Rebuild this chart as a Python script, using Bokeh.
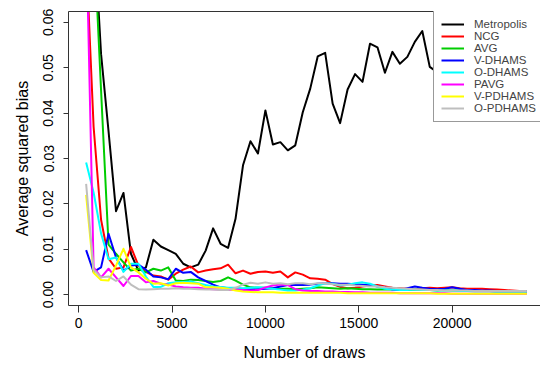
from bokeh.plotting import figure
from bokeh.models import (Range1d, FixedTicker, LinearAxis, Legend, LegendItem,
                          NumeralTickFormatter)
from bokeh.embed import file_html
from bokeh.resources import INLINE

# number of draws at which the bias was evaluated
draws = list(range(400, 24001, 400))

metropolis = [0.125, 0.082, 0.053, 0.036, 0.0184, 0.0224, 0.0090, 0.0053, 0.0060, 0.0121,
              0.0106, 0.0098, 0.0090, 0.0068, 0.0060, 0.0066, 0.0097, 0.0146, 0.0112, 0.0103,
              0.0167, 0.0285, 0.0338, 0.0311, 0.0406, 0.0331, 0.0336, 0.0318, 0.0329, 0.0402,
              0.0454, 0.0525, 0.0533, 0.0421, 0.0378, 0.0452, 0.0486, 0.0469, 0.0553, 0.0545,
              0.0489, 0.0535, 0.0509, 0.0524, 0.0557, 0.0581, 0.0502, 0.0490, 0.0520, 0.0545,
              0.0510, 0.0560, 0.0575, 0.0530, 0.0555, 0.0590, 0.0565, 0.0540, 0.0585, 0.0570]

ncg = [0.075, 0.037, 0.0165, 0.0080, 0.0057, 0.0060, 0.0105, 0.0064, 0.0050, 0.0042,
       0.0040, 0.0033, 0.0046, 0.0055, 0.0062, 0.0049, 0.0053, 0.0056, 0.0058, 0.0066,
       0.0047, 0.0053, 0.0046, 0.0050, 0.0051, 0.0048, 0.0051, 0.0038, 0.0049, 0.0044,
       0.0036, 0.0035, 0.0033, 0.0023, 0.0017, 0.0014, 0.0015, 0.0018, 0.0020, 0.0021,
       0.0018, 0.0015, 0.0014, 0.0013, 0.0012, 0.0014, 0.0015, 0.0014, 0.0015, 0.0016,
       0.0014, 0.0013, 0.0013, 0.0013, 0.0012, 0.0011, 0.0010, 0.0009, 0.0008, 0.0007]

avg = [0.115, 0.080, 0.045, 0.0110, 0.0090, 0.0071, 0.0053, 0.0057, 0.0049, 0.0057,
       0.0053, 0.0060, 0.0031, 0.0030, 0.0033, 0.0032, 0.0030, 0.0028, 0.0030, 0.0038,
       0.0031, 0.0022, 0.0016, 0.0015, 0.0015, 0.0014, 0.0013, 0.0013, 0.0012, 0.0013,
       0.0014, 0.0016, 0.0015, 0.0014, 0.0013, 0.0014, 0.0013, 0.0012, 0.0012, 0.0011,
       0.0012, 0.0011, 0.0011, 0.0010, 0.0011, 0.0010, 0.0010, 0.0009, 0.0010, 0.0009,
       0.0009, 0.0008, 0.0008, 0.0008, 0.0008, 0.0007, 0.0007, 0.0007, 0.0007, 0.0007]

v_dhams = [0.0098, 0.0050, 0.0060, 0.0134, 0.0082, 0.0053, 0.0064, 0.0066, 0.0055, 0.0040,
           0.0038, 0.0034, 0.0057, 0.0048, 0.0050, 0.0038, 0.0030, 0.0022, 0.0016, 0.0014,
           0.0012, 0.0012, 0.0011, 0.0012, 0.0013, 0.0014, 0.0018, 0.0021, 0.0022, 0.0021,
           0.0022, 0.0024, 0.0025, 0.0025, 0.0024, 0.0024, 0.0023, 0.0022, 0.0021, 0.0018,
           0.0016, 0.0011, 0.0010, 0.0014, 0.0018, 0.0015, 0.0013, 0.0012, 0.0013, 0.0016,
           0.0013, 0.0010, 0.0010, 0.0009, 0.0009, 0.0008, 0.0008, 0.0008, 0.0007, 0.0007]

o_dhams = [0.0291, 0.0225, 0.0135, 0.0078, 0.0082, 0.0050, 0.0068, 0.0068, 0.0040, 0.0017,
           0.0017, 0.0025, 0.0027, 0.0028, 0.0029, 0.0025, 0.0021, 0.0018, 0.0017, 0.0015,
           0.0015, 0.0014, 0.0015, 0.0016, 0.0015, 0.0013, 0.0011, 0.0009, 0.0009, 0.0011,
           0.0014, 0.0020, 0.0025, 0.0024, 0.0020, 0.0022, 0.0025, 0.0027, 0.0024, 0.0018,
           0.0013, 0.0011, 0.0010, 0.0010, 0.0011, 0.0010, 0.0010, 0.0009, 0.0009, 0.0009,
           0.0008, 0.0008, 0.0007, 0.0007, 0.0007, 0.0006, 0.0006, 0.0006, 0.0005, 0.0005]

pavg = [0.081, 0.0060, 0.0038, 0.0057, 0.0038, 0.0019, 0.0041, 0.0041, 0.0027, 0.0030,
        0.0024, 0.0022, 0.0018, 0.0016, 0.0015, 0.0015, 0.0013, 0.0012, 0.0011, 0.0010,
        0.0011, 0.0010, 0.0009, 0.0010, 0.0016, 0.0020, 0.0022, 0.0021, 0.0012, 0.0009,
        0.0008, 0.0008, 0.0007, 0.0007, 0.0006, 0.0006, 0.0005, 0.0005, 0.0004, 0.0004,
        0.0004, 0.0004, 0.0003, 0.0003, 0.0003, 0.0003, 0.0003, 0.0003, 0.0003, 0.0002,
        0.0002, 0.0002, 0.0002, 0.0002, 0.0002, 0.0002, 0.0002, 0.0002, 0.0002, 0.0002]

v_pdhams = [0.022, 0.0048, 0.0032, 0.0031, 0.0064, 0.0101, 0.0060, 0.0049, 0.0035, 0.0024,
            0.0025, 0.0020, 0.0025, 0.0026, 0.0025, 0.0024, 0.0016, 0.0016, 0.0015, 0.0013,
            0.0009, 0.0007, 0.0006, 0.0005, 0.0005, 0.0005, 0.0004, 0.0004, 0.0004, 0.0004,
            0.0004, 0.0004, 0.0004, 0.0004, 0.0004, 0.0003, 0.0003, 0.0003, 0.0003, 0.0003,
            0.0003, 0.0003, 0.0003, 0.0003, 0.0003, 0.0003, 0.0003, 0.0002, 0.0002, 0.0002,
            0.0002, 0.0002, 0.0002, 0.0002, 0.0002, 0.0002, 0.0002, 0.0002, 0.0002, 0.0002]

o_pdhams = [0.0244, 0.0055, 0.0038, 0.0040, 0.0030, 0.0040, 0.0022, 0.0012, 0.0011, 0.0012,
            0.0013, 0.0013, 0.0014, 0.0013, 0.0013, 0.0012, 0.0011, 0.0011, 0.0010, 0.0010,
            0.0015, 0.0022, 0.0026, 0.0024, 0.0027, 0.0024, 0.0025, 0.0023, 0.0025, 0.0025,
            0.0023, 0.0025, 0.0025, 0.0023, 0.0022, 0.0022, 0.0020, 0.0019, 0.0018, 0.0018,
            0.0016, 0.0015, 0.0014, 0.0013, 0.0012, 0.0011, 0.0010, 0.0010, 0.0009, 0.0009,
            0.0009, 0.0009, 0.0008, 0.0008, 0.0008, 0.0008, 0.0008, 0.0008, 0.0008, 0.0008]

series_labels = ["Metropolis", "NCG", "AVG", "V-DHAMS", "O-DHAMS", "PAVG", "V-PDHAMS", "O-PDHAMS"]
series_values = [metropolis, ncg, avg, v_dhams, o_dhams, pavg, v_pdhams, o_pdhams]
series_colors = ["#000000", "#FF0000", "#00CD00", "#0000FF", "#00FFFF", "#FF00FF", "#FFFF00", "#BEBEBE"]

x_ticks = [0, 5000, 10000, 15000, 20000]
y_ticks = [0.00, 0.01, 0.02, 0.03, 0.04, 0.05, 0.06]

FONT = "Liberation Sans"
BOX = "#333333"

p = figure(width=540, height=365, output_backend="svg", toolbar_location=None,
           x_range=Range1d(-544, 24730), y_range=Range1d(-0.0024, 0.0624),
           min_border_left=68, min_border_right=0, min_border_top=11, min_border_bottom=60,
           background_fill_color="white", border_fill_color="white")
p.outline_line_color = None
p.xgrid.visible = False
p.ygrid.visible = False

renderers = []
for vals, col in zip(series_values, series_colors):
    r = p.line(draws, vals, line_color=col, line_width=2, line_join="round")
    renderers.append(r)

# axes
p.xaxis.ticker = FixedTicker(ticks=x_ticks)
p.yaxis.ticker = FixedTicker(ticks=y_ticks)
p.yaxis.formatter = NumeralTickFormatter(format="0.00")
p.yaxis.major_label_orientation = "vertical"
p.xaxis.axis_label = "Number of draws"
p.yaxis.axis_label = "Average squared bias"
for ax, tick_out, std, lstd in ((p.xaxis, 7, 5, 13), (p.yaxis, 5, 10, 10)):
    ax.axis_line_color = BOX
    ax.major_tick_line_color = BOX
    ax.minor_tick_line_color = None
    ax.major_tick_in = 0
    ax.major_tick_out = tick_out
    ax.major_label_standoff = std
    ax.axis_label_standoff = lstd
    ax.major_label_text_font = FONT
    ax.major_label_text_font_size = "14px"
    ax.major_label_text_color = "black"
    ax.axis_label_text_font = FONT
    ax.axis_label_text_font_size = "16px"
    ax.axis_label_text_font_style = "normal"
    ax.axis_label_text_color = "black"

# top edge of the box
top = LinearAxis(ticker=FixedTicker(ticks=[]), axis_line_color=BOX,
                 major_tick_line_color=None, minor_tick_line_color=None,
                 major_label_text_font_size="0px")
p.add_layout(top, "above")

# legend runs past the right edge of the canvas
legend = Legend(items=[LegendItem(label=l, renderers=[r]) for l, r in zip(series_labels, renderers)],
                location=(365, 183), border_line_color=BOX, border_line_width=1,
                background_fill_color="white", background_fill_alpha=1.0,
                label_text_font=FONT, label_text_font_size="11.5px",
                glyph_width=23, glyph_height=12, label_height=12, label_width=80,
                label_standoff=10, spacing=-1, padding=7, margin=0)
p.add_layout(legend)

open("out.html", "w").write(file_html(p, INLINE))
